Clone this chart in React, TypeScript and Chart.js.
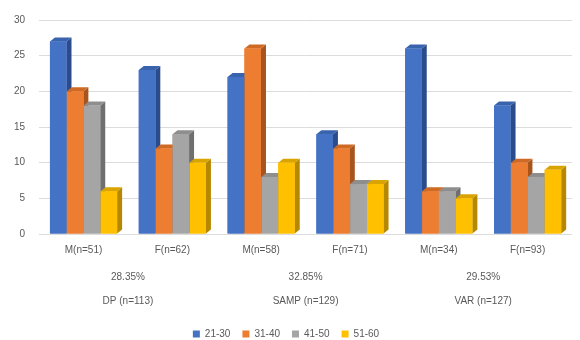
import React, { useEffect, useRef } from "react";
import { Chart, registerables } from "chart.js";

Chart.register(...registerables);

// Sub-groups along the x axis (sex within each instrument)
const categories = ["M(n=51)", "F(n=62)", "M(n=58)", "F(n=71)", "M(n=34)", "F(n=93)"];
// Group headings shown beneath each pair of sub-groups
const groupPercents = ["28.35%", "32.85%", "29.53%"];
const groupNames = ["DP (n=113)", "SAMP (n=129)", "VAR (n=127)"];
// Age bands (series)
const seriesNames = ["21-30", "31-40", "41-50", "51-60"];
const age21to30 = [27, 23, 22, 14, 26, 18];
const age31to40 = [20, 12, 26, 12, 6, 10];
const age41to50 = [18, 14, 8, 7, 6, 8];
const age51to60 = [6, 10, 10, 7, 5, 9];
const yTicks = { min: 0, max: 30, step: 5 };

const faceColors = ["#4472C4", "#ED7D31", "#A5A5A5", "#FFC000"];
const sideColors = ["#2B4C8C", "#A8551D", "#6F6F6F", "#B58800"];
const topColors = ["#3A63AD", "#CF6A25", "#8E8E8E", "#D9A300"];

// Draws every bar again with a right-hand side face and a top cap, series in order,
// so each later bar covers the side of the bar before it.
const columns3d = {
  id: "columns3d",
  afterDatasetsDraw(chart: any) {
    const ctx = chart.ctx;
    const d = 5;
    const dy = 4;
    const n = chart.data.labels.length;
    ctx.save();
    for (let c = 0; c < n; c++) {
      for (let s = 0; s < chart.data.datasets.length; s++) {
        const meta = chart.getDatasetMeta(s);
        const el: any = meta.data[c];
        if (!el) continue;
        const { x, y, base, width } = el.getProps(["x", "y", "base", "width"], true);
        const l = x - width / 2;
        const r = x + width / 2;
        // side face
        ctx.fillStyle = sideColors[s];
        ctx.beginPath();
        ctx.moveTo(r, y);
        ctx.lineTo(r + d, y - dy);
        ctx.lineTo(r + d, base - dy);
        ctx.lineTo(r, base);
        ctx.closePath();
        ctx.fill();
        // top cap
        ctx.fillStyle = topColors[s];
        ctx.beginPath();
        ctx.moveTo(l, y);
        ctx.lineTo(l + d, y - dy);
        ctx.lineTo(r + d, y - dy);
        ctx.lineTo(r, y);
        ctx.closePath();
        ctx.fill();
        // front face
        ctx.fillStyle = faceColors[s];
        ctx.fillRect(l, y, width, base - y);
      }
    }
    ctx.restore();
  },
};

export default function App() {
  const ref = useRef<HTMLCanvasElement | null>(null);

  useEffect(() => {
    document.body.style.margin = "0";
    const canvas = ref.current;
    if (!canvas) return;
    const series = [age21to30, age31to40, age41to50, age51to60];
    const chart = new Chart(canvas, {
      type: "bar",
      data: {
        labels: categories,
        datasets: series.map((data, i) => ({
          label: seriesNames[i],
          data,
          backgroundColor: faceColors[i],
          borderWidth: 0,
          categoryPercentage: 0.76,
          barPercentage: 0.98,
        })),
      },
      options: {
        animation: false,
        responsive: false,
        maintainAspectRatio: false,
        layout: { padding: { top: 19, right: 8, left: 0, bottom: -9 } },
        font: { family: "'Liberation Sans', Arial, sans-serif" },
        scales: {
          y: {
            min: yTicks.min,
            max: yTicks.max,
            ticks: {
              stepSize: yTicks.step,
              color: "#595959",
              font: { size: 10 },
              padding: 14,
            },
            grid: { color: "#dcdcdc", drawTicks: false },
            border: { display: false },
          },
          x: {
            ticks: { color: "#595959", font: { size: 10 }, padding: 2 },
            grid: { display: false },
            border: { display: false },
          },
          group: {
            type: "category",
            position: "bottom",
            labels: groupPercents.map((p, i) => [p, "", groupNames[i]]),
            offset: true,
            ticks: { color: "#595959", font: { size: 10, lineHeight: 1.2 }, padding: 5 },
            grid: { display: false },
            border: { display: false },
            afterFit(scale: any) {
              scale.height += 5;
            },
          },
        },
        plugins: {
          legend: {
            position: "bottom",
            labels: {
              boxWidth: 7,
              boxHeight: 7,
              color: "#595959",
              font: { size: 10 },
              padding: 12,
            },
          },
          tooltip: { enabled: false },
        },
      },
      plugins: [columns3d],
    });
    return () => chart.destroy();
  }, []);

  return (
    <div style={{ width: 580, height: 340, background: "#fff" }}>
      <canvas ref={ref} width={580} height={340} />
    </div>
  );
}
